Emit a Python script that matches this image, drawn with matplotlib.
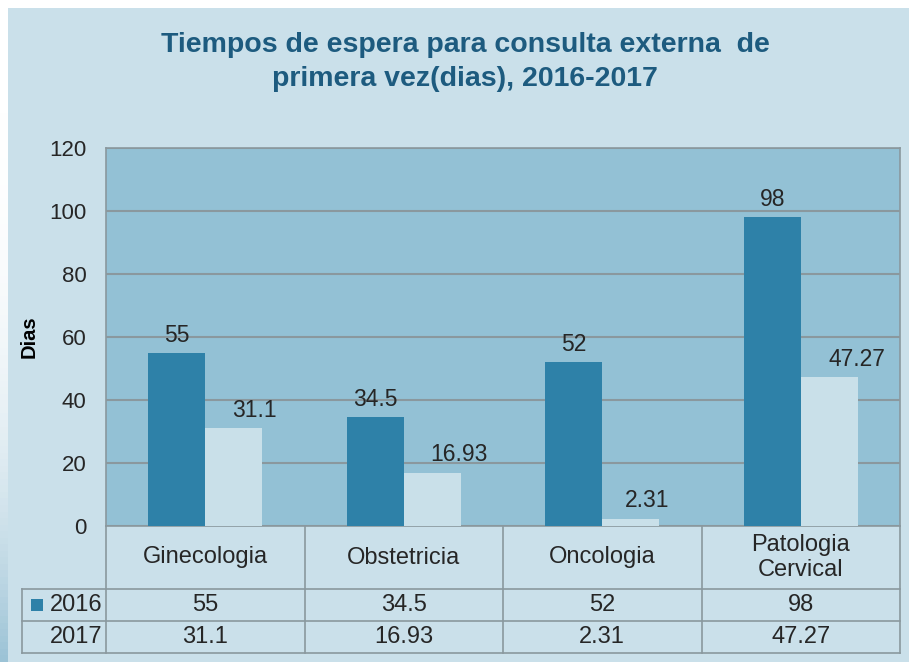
import numpy as np
import matplotlib.pyplot as plt
from matplotlib.patches import Rectangle
from matplotlib.lines import Line2D
from matplotlib.colors import LinearSegmentedColormap

plt.rcParams['font.family'] = ['Liberation Sans', 'DejaVu Sans']

categorias = ['Ginecologia', 'Obstetricia', 'Oncologia', 'Patologia\nCervical']
valores_2016 = [55, 34.5, 52, 98]
valores_2017 = [31.1, 16.93, 2.31, 47.27]
etiquetas_2016 = ['55', '34.5', '52', '98']
etiquetas_2017 = ['31.1', '16.93', '2.31', '47.27']
series = ['2016', '2017']
yticks = [0, 20, 40, 60, 80, 100, 120]

# desplazamiento horizontal (pt) de las etiquetas, como en el original
despl_2016 = [0, 0, 0, 0]
despl_2017 = [15, 19, 12, 20]

col_fondo = '#cae0ea'
col_area = '#93c1d5'
col_2016 = '#2e81a8'
col_2017 = '#c9e0e9'
col_linea = '#8a989e'
col_texto = '#262626'

W, H = 909, 662
fig = plt.figure(figsize=(W / 100, H / 100), dpi=100, facecolor='white')

# panel de fondo
fig.patches.append(Rectangle((8 / W, 0), 1 - 8 / W, 1 - 8 / H, transform=fig.transFigure,
                             facecolor=col_fondo, edgecolor='none', zorder=-10))
# franja degradada a la izquierda
grad = fig.add_axes([0, 0, 8 / W, 1 - 8 / H], zorder=-5)
cmap_g = LinearSegmentedColormap.from_list('g', ['white', '#9cc3d6'])
grad.imshow(np.linspace(0, 1, 100).reshape(-1, 1) ** 3, aspect='auto', cmap=cmap_g, origin='upper')
grad.axis('off')

x0, x1, y0, y1 = 106, 900, 148, 526
ax = fig.add_axes([x0 / W, 1 - y1 / H, (x1 - x0) / W, (y1 - y0) / H])
ax.set_facecolor(col_area)

x = np.arange(len(categorias))
ancho = 0.288
b1 = ax.bar(x - ancho / 2, valores_2016, ancho, color=col_2016, zorder=3, label=series[0])
b2 = ax.bar(x + ancho / 2, valores_2017, ancho, color=col_2017, zorder=3, label=series[1])

for barras, etiquetas, despl in [(b1, etiquetas_2016, despl_2016), (b2, etiquetas_2017, despl_2017)]:
    for rect, et, dx in zip(barras, etiquetas, despl):
        ax.annotate(et, (rect.get_x() + rect.get_width() / 2, rect.get_height()),
                    xytext=(dx, 4.5), textcoords='offset points', ha='center', va='bottom',
                    fontsize=16.5, color=col_texto, zorder=4)

ax.set_xlim(-0.5, len(categorias) - 0.5)
ax.set_ylim(0, 120)
ax.set_yticks(yticks)
ax.set_xticks([])
ax.tick_params(axis='y', length=0, pad=14, labelsize=16, labelcolor=col_texto)
ax.grid(axis='y', color=col_linea, linewidth=1.5, zorder=1)
for s in ax.spines.values():
    s.set_color(col_linea)
    s.set_linewidth(1.2)
ax.set_ylabel('Dias', fontsize=14.5, fontweight='bold', color='black', labelpad=8)

# tabla de datos debajo del eje
tr = ax.get_xaxis_transform()
alto_px = y1 - y0
h_cab = 63 / alto_px
h_fila = 32 / alto_px
x_izq = -0.5 - (x0 - 22) / ((x1 - x0) / len(categorias))
x_der = len(categorias) - 0.5
lk = dict(color=col_linea, linewidth=1.2, transform=tr, clip_on=False)

y_cab = -h_cab
y_f1 = y_cab - h_fila
y_f2 = y_f1 - h_fila
for yy in [y_cab, y_f1, y_f2]:
    ax.add_line(Line2D([x_izq, x_der], [yy, yy], **lk))
for i in range(len(categorias) + 1):
    xx = i - 0.5
    ax.add_line(Line2D([xx, xx], [0, y_f2], **lk))
ax.add_line(Line2D([x_izq, x_izq], [y_cab, y_f2], **lk))

fs_tabla = 17
for i, cat in enumerate(categorias):
    ax.text(i, -h_cab / 2, cat, transform=tr, ha='center', va='center', fontsize=fs_tabla,
            color=col_texto, linespacing=1.2)
    ax.text(i, y_cab - h_fila / 2, etiquetas_2016[i], transform=tr, ha='center', va='center',
            fontsize=fs_tabla, color=col_texto)
    ax.text(i, y_f1 - h_fila / 2, etiquetas_2017[i], transform=tr, ha='center', va='center',
            fontsize=fs_tabla, color=col_texto)

ax.text(-0.52, y_cab - h_fila / 2, series[0], transform=tr, ha='right', va='center',
        fontsize=fs_tabla, color=col_texto)
ax.text(-0.52, y_f1 - h_fila / 2, series[1], transform=tr, ha='right', va='center',
        fontsize=fs_tabla, color=col_texto)
cuadro = 12 / ((x1 - x0) / len(categorias))
ax.add_patch(Rectangle((x_izq + 0.045, y_cab - h_fila / 2 - 6 / alto_px), cuadro, 12 / alto_px,
                       transform=tr, clip_on=False, facecolor=col_2016, edgecolor='none'))

fig.text(465 / W, 1 - 62 / H,
         'Tiempos de espera para consulta externa  de\nprimera vez(dias), 2016-2017',
         ha='center', va='center', fontsize=20.5, fontweight='bold', color='#1d5b7f',
         linespacing=1.4)

fig.savefig('out.png', dpi=100, facecolor=fig.get_facecolor())
